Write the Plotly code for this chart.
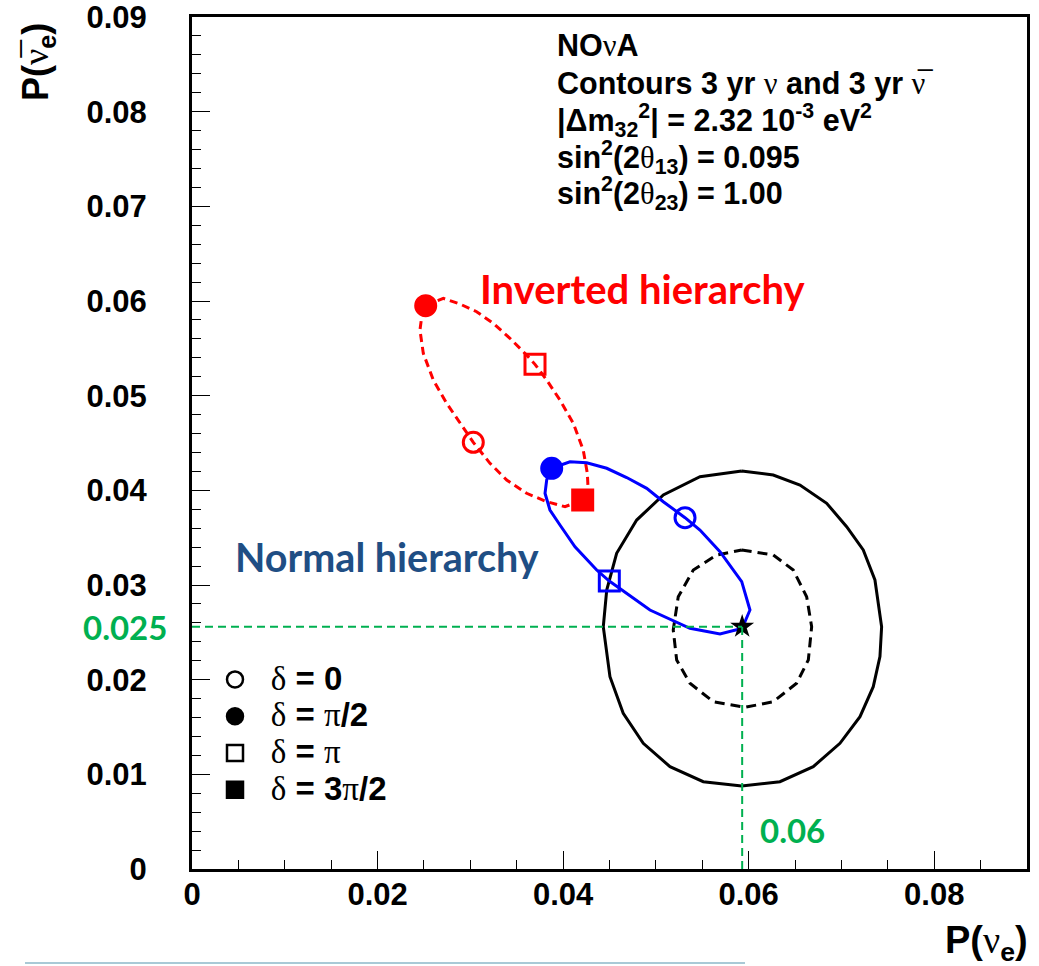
import plotly.graph_objects as go

# ---------------- data ----------------
x_tickvals = [0, 0.02, 0.04, 0.06, 0.08]
x_ticktext = ["0", "0.02", "0.04", "0.06", "0.08"]
y_tickvals = [0, 0.01, 0.02, 0.03, 0.04, 0.05, 0.06, 0.07, 0.08, 0.09]
y_ticktext = ["0", "0.01", "0.02", "0.03", "0.04", "0.05", "0.06", "0.07", "0.08", "0.09"]

# outer (solid) black contour
outer_x = [0.05925, 0.06265, 0.06553, 0.06841, 0.07056, 0.07235, 0.07361, 0.07433, 0.07415,
           0.07343, 0.07200, 0.06984, 0.06696, 0.06337, 0.05925, 0.05511, 0.05152, 0.04864,
           0.04648, 0.04505, 0.04433, 0.04470, 0.04577, 0.04793, 0.05080, 0.05475, 0.05925]
outer_y = [0.04204, 0.04162, 0.04056, 0.03863, 0.03616, 0.03370, 0.03053, 0.02559, 0.02243,
           0.01926, 0.01609, 0.01328, 0.01081, 0.00922, 0.00877, 0.00922, 0.01081, 0.01328,
           0.01645, 0.02031, 0.02559, 0.02947, 0.03335, 0.03686, 0.03951, 0.04144, 0.04204]

# inner (dashed) black contour
inner_x = [0.05925, 0.06265, 0.06481, 0.06625, 0.06679, 0.06643, 0.06517, 0.06265, 0.05960,
           0.05619, 0.05367, 0.05224, 0.05187, 0.05241, 0.05403, 0.05655, 0.05925]
inner_y = [0.03370, 0.03317, 0.03158, 0.02876, 0.02559, 0.02208, 0.01962, 0.01767, 0.01708,
           0.01767, 0.01962, 0.02208, 0.02525, 0.02876, 0.03158, 0.03317, 0.03370]

# normal hierarchy curve (blue)
nh_x = [0.03877, 0.04074, 0.04254, 0.04470, 0.04685, 0.04901, 0.05080, 0.05314, 0.05475,
        0.05691, 0.05925, 0.06014, 0.05960, 0.05935, 0.05691, 0.05367, 0.04936, 0.04685,
        0.04498, 0.04362, 0.04128, 0.03966, 0.03858, 0.03805, 0.03823, 0.03877]
nh_y = [0.04233, 0.04302, 0.04292, 0.04233, 0.04135, 0.04021, 0.03880, 0.03711, 0.03581,
        0.03352, 0.03035, 0.02736, 0.02612, 0.02543, 0.02482, 0.02543, 0.02736, 0.02912,
        0.03042, 0.03158, 0.03404, 0.03634, 0.03792, 0.03969, 0.04109, 0.04233]

# inverted hierarchy curve (red)
ih_x = [0.02519, 0.02709, 0.02888, 0.03068, 0.03247, 0.03427, 0.03607, 0.03697, 0.03823,
        0.03966, 0.04110, 0.04217, 0.04261, 0.04271, 0.04211, 0.04020, 0.03823, 0.03607,
        0.03392, 0.03212, 0.03032, 0.02888, 0.02745, 0.02601, 0.02493, 0.02457, 0.02476, 0.02519]
ih_y = [0.05950, 0.06028, 0.05968, 0.05887, 0.05764, 0.05606, 0.05429, 0.05331, 0.05165,
        0.04954, 0.04708, 0.04426, 0.04180, 0.03985, 0.03898, 0.03827, 0.03880, 0.03969,
        0.04109, 0.04285, 0.04507, 0.04708, 0.04919, 0.05165, 0.05447, 0.05693, 0.05834, 0.05950]

# delta markers: [delta=0, pi/2, pi, 3pi/2]
delta_labels = ["0", "π/2", "π", "3π/2"]
delta_symbols = ["circle-open", "circle", "square-open", "square"]
ih_delta_x = [0.03032, 0.02519, 0.03697, 0.04211]
ih_delta_y = [0.04507, 0.05950, 0.05331, 0.03898]
nh_delta_x = [0.05314, 0.03877, 0.04498]
nh_delta_y = [0.03711, 0.04233, 0.03042]

# reference point
star_x = 0.0593
star_y = 0.0256

# ---------------- figure ----------------
W, H = 1039, 966
OX, OY = 0, 0                       # page offset of the figure (body margin removed)
PL, PT, PR, PB = 192, 17, 1027, 869  # plot area in page pixels
L, T = PL - OX, PT - OY
R, B = W - (PR - OX), H - (PB - OY)
PW, PH = PR - PL, PB - PT


def px(x):
    return (x - PL) / PW


def py(y):
    return (PB - y) / PH


SERIF = "font-family:Liberation Serif;font-weight:normal"
GREEN = "#00b050"

fig = go.Figure()

fig.add_trace(go.Scatter(x=outer_x, y=outer_y, mode="lines",
                         line=dict(color="black", width=3), showlegend=False, hoverinfo="skip"))
fig.add_trace(go.Scatter(x=inner_x, y=inner_y, mode="lines",
                         line=dict(color="black", width=3, dash="10px,6px"), showlegend=False, hoverinfo="skip"))
fig.add_trace(go.Scatter(x=ih_x, y=ih_y, mode="lines",
                         line=dict(color="#ff0000", width=3, dash="8px,5px"), showlegend=False))
fig.add_trace(go.Scatter(x=nh_x, y=nh_y, mode="lines",
                         line=dict(color="#0000ff", width=3), showlegend=False))

fig.add_trace(go.Scatter(x=ih_delta_x, y=ih_delta_y, mode="markers",
                         marker=dict(symbol=delta_symbols[:len(ih_delta_x)], size=20, color="#ff0000",
                                     line=dict(color="#ff0000", width=3)),
                         showlegend=False))
fig.add_trace(go.Scatter(x=nh_delta_x, y=nh_delta_y, mode="markers",
                         marker=dict(symbol=delta_symbols[:len(nh_delta_x)], size=20, color="#0000ff",
                                     line=dict(color="#0000ff", width=3)),
                         showlegend=False))

fig.add_trace(go.Scatter(x=[star_x], y=[star_y], mode="markers",
                         marker=dict(symbol="star", size=18, color="black"), showlegend=False))

# green guide lines
fig.add_trace(go.Scatter(x=[0, star_x], y=[star_y, star_y], mode="lines",
                         line=dict(color=GREEN, width=2, dash="8px,5px"), showlegend=False, cliponaxis=False))
fig.add_trace(go.Scatter(x=[star_x, star_x], y=[0, star_y], mode="lines",
                         line=dict(color=GREEN, width=2, dash="8px,5px"), showlegend=False))

# legend entries
for lab, sym in zip(delta_labels, delta_symbols):
    lab_html = lab.replace("π", f"<span style='{SERIF}'>π</span>")
    fig.add_trace(go.Scatter(x=[None], y=[None], mode="markers",
                             marker=dict(symbol=sym, size=16, color="black",
                                         line=dict(color="black", width=2.5)),
                             name=(f"<span style='font-size:33px'>\u00a0\u2009<span style='{SERIF}'>δ</span>"
                                   f" = {lab_html}</span>")))

axis_common = dict(
    showline=True, linewidth=3, linecolor="black", mirror=True,
    showgrid=False, zeroline=False, automargin=False,
    ticks="inside", ticklen=18, tickwidth=1, tickcolor="black",
    ticklabeloverflow="allow",
    tickfont=dict(family="Liberation Sans", size=31, color="black", weight="bold"),
)

fig.update_xaxes(range=[0, 0.09], tickvals=x_tickvals, ticktext=x_ticktext,
                 minor=dict(ticks="inside", ticklen=9, dtick=0.005, tick0=0, tickcolor="black",
                            tickwidth=1, showgrid=False),
                 ticklabelstandoff=-4, **axis_common)
fig.update_yaxes(range=[0, 0.09], tickvals=y_tickvals, ticktext=y_ticktext,
                 minor=dict(ticks="inside", ticklen=9, dtick=0.002, tick0=0, tickcolor="black",
                            tickwidth=1, showgrid=False),
                 ticklabelstandoff=36, **axis_common)

ann = []
# axis titles
ann.append(dict(x=px(1030), y=py(943), xref="paper", yref="paper", xanchor="right", yanchor="middle",
                text=f"P(<span style='{SERIF}'>ν</span><sub>e</sub>)", showarrow=False,
                font=dict(family="Liberation Sans", size=38, color="black", weight="bold")))
ann.append(dict(x=px(38), y=py(62), xref="paper", yref="paper", xanchor="center", yanchor="middle",
                textangle=-90,
                text=f"P(<span style='{SERIF}'>ν\u0305</span><sub>e</sub>)", showarrow=False,
                font=dict(family="Liberation Sans", size=36, color="black", weight="bold")))

# info block
info_lines = [
    "NO<span style='%s'>ν</span>A" % SERIF,
    "Contours 3 yr <span style='%s'>ν</span> and 3 yr <span style='%s'>ν\u0305</span>" % (SERIF, SERIF),
    "|Δm<sub>32</sub><sup>2</sup>| = 2.32 10<sup>-3</sup> eV<sup>2</sup>",
    "sin<sup>2</sup>(2<span style='%s'>θ</span><sub>13</sub>) = 0.095" % SERIF,
    "sin<sup>2</sup>(2<span style='%s'>θ</span><sub>23</sub>) = 1.00" % SERIF,
]
info_y = [46, 83, 120, 157, 194]
for t, yy in zip(info_lines, info_y):
    ann.append(dict(x=px(555), y=py(yy), xref="paper", yref="paper", xanchor="left", yanchor="middle",
                    text=t, showarrow=False,
                    font=dict(family="Liberation Sans", size=30.5, color="black", weight="bold")))

ann.append(dict(x=px(478), y=py(289), xref="paper", yref="paper", xanchor="left", yanchor="middle",
                text="Inverted hierarchy", showarrow=False,
                font=dict(family="Lato", size=40, color="#ff0000", weight="bold")))
ann.append(dict(x=px(233), y=py(556), xref="paper", yref="paper", xanchor="left", yanchor="middle",
                text="Normal hierarchy", showarrow=False,
                font=dict(family="Lato", size=39.5, color="#1f4e84", weight="bold")))
ann.append(dict(x=px(125), y=py(627), xref="paper", yref="paper", xanchor="center", yanchor="middle",
                text="0.025", showarrow=False,
                font=dict(family="Lato", size=33, color=GREEN, weight="bold")))
ann.append(dict(x=px(758), y=py(830), xref="paper", yref="paper", xanchor="left", yanchor="middle",
                text="0.06", showarrow=False,
                font=dict(family="Lato", size=33, color=GREEN, weight="bold")))

fig.update_layout(
    width=W, height=H,
    margin=dict(l=L, r=R, t=T, b=B, autoexpand=False),
    plot_bgcolor="white", paper_bgcolor="white",
    annotations=ann,
    showlegend=True,
    legend=dict(x=px(215), y=py(656), xanchor="left", yanchor="top",
                bgcolor="rgba(0,0,0,0)", borderwidth=0,
                font=dict(family="Liberation Sans", size=26, color="black", weight="bold"),
                tracegroupgap=0, itemwidth=30),
    shapes=[dict(type="line", xref="paper", yref="paper", x0=px(25), x1=px(745), y0=py(963), y1=py(963),
                 line=dict(color="#a9c9d6", width=2))],
)

fig.write_html("out.html", config={"displayModeBar": False},
               post_script="document.body.style.margin='0px';")
